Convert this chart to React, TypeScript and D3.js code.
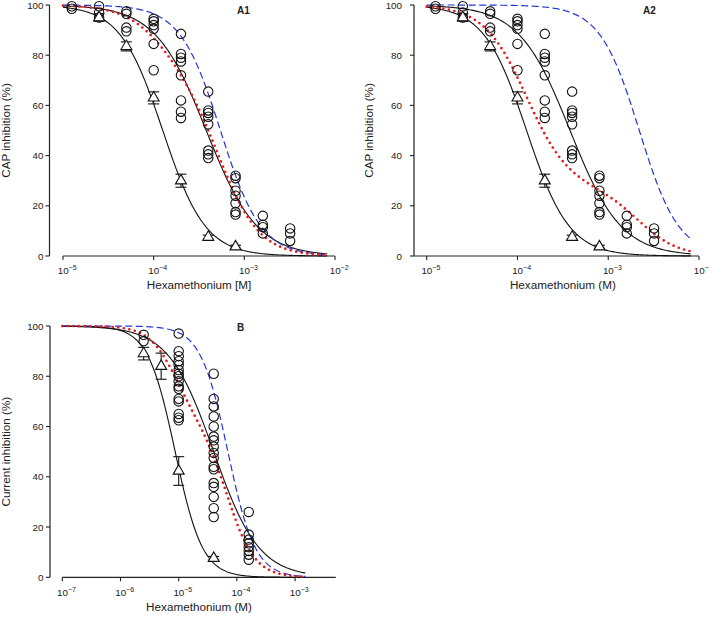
import React from 'react';
import * as d3 from 'd3';

// ---------- data ----------
const concA = [1.25e-5, 2.5e-5, 5e-5, 1e-4, 2e-4, 4e-4, 8e-4, 1.6e-3, 3.2e-3];
const circlesA = [
  [99.5, 98.5],
  [99.5, 97, 95],
  [97.5, 96.5, 91, 89.5],
  [94.5, 93.5, 92, 90.5, 84.5, 74],
  [88.5, 80.5, 79, 77.5, 72, 62, 57.5, 55],
  [65.5, 58, 57, 55.5, 52.5, 42, 40.5, 39],
  [32, 31, 26, 24, 21, 17.5, 16.5],
  [16, 12.5, 11.5, 9],
  [11, 9, 6],
];
const triConcA = [2.5e-5, 5e-5, 1e-4, 2e-4, 4e-4, 8e-4];
const triMeanA = [95, 83.5, 63, 30, 7.5, 3.7];
const triSemA = [1.5, 1.8, 2.4, 2.6, 0.8, 0.6];

const concB = [2.5e-6, 1e-5, 4e-5, 1.6e-4];
const circlesB = [
  [96.5, 94],
  [97, 90, 88, 86, 84.5, 82.5, 81, 80, 78, 76, 75, 71, 70, 65, 63.5, 62.5],
  [81, 71, 68, 64, 60, 56, 54.5, 52, 49.5, 47.5, 44, 43, 37.5, 36, 32, 27.5, 24],
  [26, 17, 15, 13.5, 12, 10.5, 9, 7],
];
const triConcB = [2.5e-6, 5e-6, 1e-5, 4e-5];
const triMeanB = [89, 84, 42.3, 7.6];
const triSemB = [2.5, 5.2, 5.7, 0.7];

// fitted Hill curves: [IC50 (M), Hill coefficient]
const fitCircleA = [3.8e-4, 1.55];
const fitTriA = [1.26e-4, 1.85];
const fitBlueA1 = [5.45e-4, 1.95];
const fitBlueA2 = [2.2e-3, 2.0];
const mixA1 = 0.27; // fraction of triangle-curve component in red prediction
const mixA2 = 0.73;
const fitCircleB = [4e-5, 1.12];
const fitTriB = [8.7e-6, 1.85];
const fitBlueB = [7e-5, 1.85];
const mixB = 0.38;

const yTicks = [0, 20, 40, 60, 80, 100];
const xExpA = [-5, -4, -3, -2];
const xExpB = [-7, -6, -5, -4, -3];

// ---------- helpers ----------
const hill = (x: number, p: number[]) => 100 / (1 + Math.pow(x / p[0], p[1]));
const FONT = '"Liberation Sans", Arial, Helvetica, sans-serif';
const TXT = '#222';

function sample(lo: number, hi: number, n = 240) {
  return d3.range(n + 1).map((i) => lo * Math.pow(hi / lo, i / n));
}

type PanelProps = {
  xDomain: [number, number];
  xRange: [number, number];
  yRange: [number, number];
  yAxisX: number;
  xAxisStart: number;
  yLabelRight: number;
  yTitleX: number;
  yTitle: string;
  xTitle: string;
  tickBaseline: number;
  titleBaseline: number;
  label: string;
  labelPos: [number, number];
  exps: number[];
  conc: number[];
  circles: number[][];
  triConc: number[];
  triMean: number[];
  triSem: number[];
  fitCircle: number[];
  fitTri: number[];
  fitBlue: number[];
  mix: number;
  curveLo: number;
  curveHi: number;
};

function Panel(p: PanelProps) {
  const x = d3.scaleLog().domain(p.xDomain).range(p.xRange);
  const y = d3.scaleLinear().domain([0, 100]).range(p.yRange);
  const xs = sample(p.curveLo, p.curveHi);
  const line = d3
    .line<[number, number]>()
    .x((d) => x(d[0]))
    .y((d) => y(d[1]));
  const circleCurve = line(xs.map((v) => [v, hill(v, p.fitCircle)]));
  const triCurve = line(xs.map((v) => [v, hill(v, p.fitTri)]));
  const blueCurve = line(xs.map((v) => [v, hill(v, p.fitBlue)]));
  const redCurve = line(
    xs.map((v) => [v, p.mix * hill(v, p.fitTri) + (1 - p.mix) * hill(v, p.fitBlue)])
  );
  const tri = d3.symbol(d3.symbolTriangle, 52);
  const yAxisBottom = p.yRange[0];
  const xAxisY = p.yRange[0];
  return (
    <g>
      {/* axes */}
      <line x1={p.yAxisX} x2={p.yAxisX} y1={yAxisBottom} y2={p.yRange[1]} stroke="#222" strokeWidth={1.2} />
      {yTicks.map((t) => (
        <g key={'y' + t}>
          <line x1={p.yAxisX - 4} x2={p.yAxisX} y1={y(t)} y2={y(t)} stroke="#222" strokeWidth={1.1} />
          <text x={p.yLabelRight} y={y(t) + 3.5} textAnchor="end" fontSize={9.8} fontFamily={FONT} fill={TXT}>
            {t}
          </text>
        </g>
      ))}
      <line x1={p.xAxisStart} x2={p.xRange[1]} y1={xAxisY} y2={xAxisY} stroke="#222" strokeWidth={1.2} />
      {p.exps.map((e) => {
        const xv = x(Math.pow(10, e));
        return (
          <g key={'x' + e}>
            <line x1={xv} x2={xv} y1={xAxisY} y2={xAxisY + 4} stroke="#222" strokeWidth={1.1} />
            <text x={xv - 5.3} y={p.tickBaseline} fontSize={9.8} fontFamily={FONT} fill={TXT}>
              10
              <tspan dy={-4} fontSize={7}>
                {'\u2212' + Math.abs(e)}
              </tspan>
            </text>
          </g>
        );
      })}
      <text
        x={(p.xRange[0] + p.xRange[1]) / 2}
        y={p.titleBaseline}
        textAnchor="middle"
        fontSize={11.7}
        fontFamily={FONT}
        fill={TXT}
      >
        {p.xTitle}
      </text>
      <text
        transform={`translate(${p.yTitleX},${(p.yRange[0] + p.yRange[1]) / 2}) rotate(-90)`}
        textAnchor="middle"
        fontSize={11.7}
        fontFamily={FONT}
        fill={TXT}
      >
        {p.yTitle}
      </text>
      <text x={p.labelPos[0]} y={p.labelPos[1]} fontSize={10} fontWeight="bold" fontFamily={FONT} fill={TXT}>
        {p.label}
      </text>

      {/* curves */}
      <path d={triCurve || ''} fill="none" stroke="#111" strokeWidth={1.1} />
      <path d={circleCurve || ''} fill="none" stroke="#111" strokeWidth={1.1} />
      <path d={blueCurve || ''} fill="none" stroke="#2336d6" strokeWidth={1.2} strokeDasharray="7 3.5" />
      <path
        d={redCurve || ''}
        fill="none"
        stroke="#e8191c"
        strokeWidth={2.7}
        strokeDasharray="0 5.6"
        strokeLinecap="round"
      />

      {/* circles */}
      {p.conc.map((c, i) =>
        p.circles[i].map((v, j) => (
          <circle key={`c${i}-${j}`} cx={x(c)} cy={y(v)} r={4.7} fill="none" stroke="#111" strokeWidth={1.1} />
        ))
      )}

      {/* triangles with SEM bars */}
      {p.triConc.map((c, i) => {
        const cx = x(c);
        const m = p.triMean[i];
        const s = p.triSem[i];
        return (
          <g key={'t' + i}>
            <line x1={cx} x2={cx} y1={y(m - s)} y2={y(m + s)} stroke="#111" strokeWidth={1.1} />
            <line x1={cx - 5.5} x2={cx + 5.5} y1={y(m + s)} y2={y(m + s)} stroke="#111" strokeWidth={1.1} />
            <line x1={cx - 5.5} x2={cx + 5.5} y1={y(m - s)} y2={y(m - s)} stroke="#111" strokeWidth={1.1} />
            <path d={tri() || ''} transform={`translate(${cx},${y(m)})`} fill="white" stroke="#111" strokeWidth={1.1} />
          </g>
        );
      })}
    </g>
  );
}

export default function App() {
  return (
    <svg
      width={709}
      height={618}
      viewBox="0 0 709 618"
      style={{ position: 'absolute', left: 0, top: 0, background: '#fff' }}
    >
      <rect width={709} height={618} fill="#fff" />
      <Panel
        xDomain={[1e-5, 1e-2]}
        xRange={[63, 335]}
        yRange={[256, 5]}
        yAxisX={49.5}
        xAxisStart={63}
        yLabelRight={43.5}
        yTitleX={10}
        yTitle="CAP inhibition (%)"
        xTitle="Hexamethonium [M]"
        tickBaseline={274}
        titleBaseline={289}
        label="A1"
        labelPos={[237, 14]}
        exps={xExpA}
        conc={concA}
        circles={circlesA}
        triConc={triConcA}
        triMean={triMeanA}
        triSem={triSemA}
        fitCircle={fitCircleA}
        fitTri={fitTriA}
        fitBlue={fitBlueA1}
        mix={mixA1}
        curveLo={1e-5}
        curveHi={8.2e-3}
      />
      <Panel
        xDomain={[1e-5, 1e-2]}
        xRange={[426.7, 699]}
        yRange={[256, 5]}
        yAxisX={414}
        xAxisStart={414}
        yLabelRight={402}
        yTitleX={373}
        yTitle="CAP inhibition (%)"
        xTitle="Hexamethonium (M)"
        tickBaseline={274}
        titleBaseline={289}
        label="A2"
        labelPos={[643, 14]}
        exps={xExpA}
        conc={concA}
        circles={circlesA}
        triConc={triConcA}
        triMean={triMeanA}
        triSem={triSemA}
        fitCircle={fitCircleA}
        fitTri={fitTriA}
        fitBlue={fitBlueA2}
        mix={mixA2}
        curveLo={1e-5}
        curveHi={8.1e-3}
      />
      <Panel
        xDomain={[1e-7, Math.pow(10, -2.3)]}
        xRange={[62.3, 335.8]}
        yRange={[577.3, 326]}
        yAxisX={50}
        xAxisStart={62.3}
        yLabelRight={43.5}
        yTitleX={10}
        yTitle="Current inhibition (%)"
        xTitle="Hexamethonium (M)"
        tickBaseline={596}
        titleBaseline={611}
        label="B"
        labelPos={[237, 331]}
        exps={xExpB}
        conc={concB}
        circles={circlesB}
        triConc={triConcB}
        triMean={triMeanB}
        triSem={triSemB}
        fitCircle={fitCircleB}
        fitTri={fitTriB}
        fitBlue={fitBlueB}
        mix={mixB}
        curveLo={1e-7}
        curveHi={1.5e-3}
      />
    </svg>
  );
}
